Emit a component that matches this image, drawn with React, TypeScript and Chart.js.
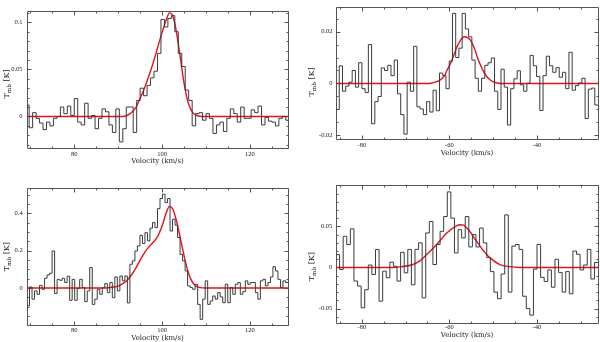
import React, { useEffect, useRef } from "react";
import { Chart, registerables } from "chart.js";

Chart.register(...registerables);

// ---------- Data ----------
// Panel 1 (top-left): channel grid + T_mb per channel
const P1_V0 = 68.95;
const P1_DV = 0.79;
const P1_TMB = [
  0.012, -0.012, 0.004, -0.002, -0.007, -0.014, -0.006, -0.01, -0.002, 0.0,
  0.01, 0.003, 0.011, 0.001, 0.019, -0.006, -0.009, 0.014, -0.002, 0.001,
  -0.013, -0.002, 0.008, 0.005, -0.009, -0.017, 0.008, -0.027, -0.013, 0.01,
  0.01, -0.017, 0.017, 0.03, 0.022, 0.033, 0.041, 0.048, 0.067, 0.103,
  0.095, 0.104, 0.107, 0.09, 0.067, 0.053, 0.028, 0.017, -0.01, 0.003,
  0.004, -0.004, 0.003, -0.002, -0.018, -0.009, -0.006, -0.016, -0.002, 0.008,
  0.003, -0.006, 0.01, -0.002, -0.002, 0.007, 0.004, 0.011, -0.009, -0.001,
  -0.005, -0.006, -0.01, -0.002, 0.0, -0.004,
];
const P1_FIT_V = [69.25, 91, 92, 93, 94, 95, 96, 97, 98, 99, 100, 101, 101.7, 102.3, 103, 104, 105, 106, 107, 108, 109, 128.7];
const P1_FIT_T = [0, 0, 0.001, 0.004, 0.009, 0.019, 0.03, 0.043, 0.057, 0.073, 0.089, 0.103, 0.11, 0.108, 0.097, 0.068, 0.036, 0.014, 0.004, 0.001, 0, 0];

// Panel 2 (top-right)
const P2_V0 = -85.9;
const P2_DV = 0.739;
const P2_TMB = [
  -0.01, 0.0068, -0.003, -0.001, 0.0005, 0.005, -0.0014, 0.008, -0.002, -0.0035,
  0.015, -0.0155, -0.007, -0.005, 0.006, 0.005, 0.007, 0.003, 0.009, -0.004,
  -0.012, -0.0195, 0.0005, -0.003, 0.0143, -0.009, -0.0098, -0.012, -0.007, -0.011,
  -0.0026, -0.0105, 0.004, 0.003, -0.002, 0.0086, 0.027, 0.01, 0.0136, 0.027,
  0.021, 0.018, 0.009, 0.002, -0.003, 0.002, 0.007, 0.008, 0.0098, -0.003,
  -0.01, 0.0055, -0.0014, -0.016, -0.002, 0.0018, 0.0049, -0.0005, -0.003, 0.0001,
  0.0108, 0.0068, 0.0027, -0.0104, 0.003, 0.0105, 0.0068, 0.0043, 0.0061, 0.0024,
  0.0043, -0.002, 0.012, -0.0026, -0.0008, 0.0002, 0.002, -0.0135, -0.0022, -0.0018,
  -0.0083,
];
const P2_FIT_V = [-85.9, -65, -64, -63, -62, -61, -60.6, -60, -59.4, -58.3, -57.5, -56.6, -55.2, -54, -53.7, -53, -52, -51, -50, -49, -48, -26.05];
const P2_FIT_T = [0, 0, 0.0002, 0.0006, 0.0015, 0.0033, 0.0049, 0.0068, 0.009, 0.014, 0.0165, 0.018, 0.0167, 0.0122, 0.0105, 0.0075, 0.004, 0.0018, 0.0006, 0.0002, 0, 0];

// Panel 3 (bottom-left)
const P3_V0 = 69.25;
const P3_DV = 0.5716;
const P3_TMB = [
  -0.096, 0.005, -0.06, -0.016, -0.034, 0.014, -0.007, 0.052, 0.07, 0.079,
  0.198, -0.03, 0.046, 0.041, 0.052, 0.029, 0.063, -0.066, 0.046, -0.066,
  -0.002, 0.046, 0.002, -0.073, -0.016, 0.109, -0.088, -0.06, -0.007, -0.034,
  0.002, 0.023, -0.025, 0.029, -0.052, 0.059, -0.016, 0.064, 0.038, 0.064,
  -0.08, 0.127, 0.145, 0.198, 0.225, 0.282, 0.238, 0.296, 0.252, 0.32,
  0.35, 0.323, 0.425, 0.479, 0.502, 0.457, 0.479, 0.305, 0.368, 0.336,
  0.27, 0.18, 0.145, 0.091, 0.011, 0.002, -0.007, 0.02, -0.088, -0.168,
  -0.06, 0.038, -0.088, -0.07, -0.043, -0.06, -0.025, -0.048, -0.079, 0.02,
  -0.079, 0.002, -0.034, 0.02, 0.029, -0.034, -0.02, 0.038, 0.02, 0.029,
  0.029, -0.025, -0.06, 0.038, 0.046, 0.011, 0.029, 0.059, 0.114, 0.091,
  0.046, 0.002, 0.038, 0.029,
];
const P3_FIT_V = [69.25, 87, 88, 89, 90, 91, 92, 93, 94, 95, 96, 97, 98, 99, 100, 101, 101.7, 102.5, 103.5, 104.5, 105.5, 106.5, 107.5, 108.5, 110, 128.7];
const P3_FIT_T = [0, 0, 0.002, 0.005, 0.01, 0.022, 0.04, 0.068, 0.105, 0.148, 0.188, 0.22, 0.245, 0.275, 0.33, 0.405, 0.437, 0.42, 0.34, 0.23, 0.125, 0.05, 0.015, 0.003, 0, 0];

// Panel 4 (bottom-right)
const P4_V0 = -85.9;
const P4_DV = 0.82;
const P4_TMB = [
  0.0157, -0.0024, 0.038, 0.028, 0.047, -0.0165, -0.0226, -0.049, -0.027, 0.003,
  -0.0085, 0.022, -0.041, -0.0044, -0.0125, 0.0065, 0.0015, -0.0165, 0.0185, -0.0065,
  0.022, -0.021, 0.022, 0.03, -0.037, 0.042, 0.056, 0.0036, 0.028, 0.044,
  0.062, 0.092, 0.06, 0.0177, 0.046, 0.036, 0.062, 0.025, 0.04, 0.025,
  0.048, 0.03, 0.012, -0.005, -0.03, -0.038, -0.008, 0.064, -0.03, 0.026,
  0.028, 0.022, -0.035, -0.05, -0.058, -0.002, 0.028, -0.012, -0.017, -0.003,
  -0.024, 0.01, -0.006, -0.03, -0.005, -0.032, 0.02, 0.016, -0.003, 0.003,
  0.022, -0.014, 0.006,
];
const P4_FIT_V = [-85.9, -73, -71.3, -68.3, -66.5, -65.2, -62.9, -60.6, -58.4, -57.5, -56.8, -55.5, -53.8, -52, -50.7, -48.5, -46.2, -44, -26.05];
const P4_FIT_T = [0, 0, 0.0008, 0.0036, 0.009, 0.0157, 0.028, 0.042, 0.0508, 0.052, 0.0515, 0.045, 0.032, 0.019, 0.0117, 0.0036, 0.001, 0, 0];

// Axis tick labels
const X_TICKS_POS = [80, 100, 120];
const X_TICKS_NEG = [-80, -60, -40];
const P1_Y_TICKS = [0, 0.05, 0.1];
const P2_Y_TICKS = [-0.02, 0, 0.02];
const P3_Y_TICKS = [0, 0.2, 0.4];
const P4_Y_TICKS = [-0.05, 0, 0.05];

const X_TITLE = "Velocity (km/s)";

const TITLE_FONT = "'DejaVu Serif', serif";
const TICK_FONT = "'Liberation Serif', serif";
const TEXT = "#1a1a1a";

// ---------- Plugins ----------
const frameTicks = {
  id: "frameTicks",
  beforeDatasetsDraw(chart: any, _a: any, opts: any) {
    const { ctx, chartArea: a, scales } = chart;
    const xs = scales.x;
    const ys = scales.y;
    ctx.save();
    ctx.strokeStyle = "#555";
    ctx.lineWidth = 1;
    const L = Math.round(a.left) + 0.5;
    const R = Math.round(a.right) + 0.5;
    const T = Math.round(a.top) + 0.5;
    const B = Math.round(a.bottom) + 0.5;
    ctx.beginPath();
    ctx.rect(L, T, R - L, B - T);
    const xTicks = (step: number, len: number) => {
      for (let k = Math.ceil(xs.min / step - 1e-6); k * step <= xs.max + 1e-9; k++) {
        const px = Math.round(xs.getPixelForValue(k * step)) + 0.5;
        ctx.moveTo(px, T);
        ctx.lineTo(px, T + len);
        ctx.moveTo(px, B);
        ctx.lineTo(px, B - len);
      }
    };
    const yTicks = (step: number, len: number) => {
      for (let k = Math.ceil(ys.min / step - 1e-6); k * step <= ys.max + 1e-9; k++) {
        const py = Math.round(ys.getPixelForValue(k * step)) + 0.5;
        ctx.moveTo(L, py);
        ctx.lineTo(L + len, py);
        ctx.moveTo(R, py);
        ctx.lineTo(R - len, py);
      }
    };
    xTicks(opts.xMajor, 4);
    xTicks(opts.xMinor, 2);
    yTicks(opts.yMajor, 4);
    yTicks(opts.yMinor, 2);
    ctx.stroke();
    ctx.restore();
  },
};

const yTitle = {
  id: "yTitle",
  afterDraw(chart: any, _a: any, opts: any) {
    const { ctx } = chart;
    const size = opts.size;
    const big = `${size}px ${TITLE_FONT}`;
    const small = `${size * 0.72}px ${TITLE_FONT}`;
    ctx.save();
    ctx.translate(opts.x, opts.y);
    ctx.rotate(-Math.PI / 2);
    ctx.fillStyle = TEXT;
    ctx.textBaseline = "middle";
    ctx.textAlign = "left";
    ctx.font = big;
    const wT = ctx.measureText("T").width;
    const wK = ctx.measureText(" [K]").width;
    ctx.font = small;
    const wmb = ctx.measureText("mb").width;
    const start = -(wT + wmb + wK) / 2;
    ctx.font = big;
    ctx.fillText("T", start, 0);
    ctx.font = small;
    ctx.fillText("mb", start + wT, size * 0.3);
    ctx.font = big;
    ctx.fillText(" [K]", start + wT + wmb, 0);
    ctx.restore();
  },
};

// ---------- Panel ----------
type PanelProps = {
  left: number;
  top: number;
  v0: number;
  dv: number;
  tmb: number[];
  fitV: number[];
  fitT: number[];
  xMin: number;
  xMax: number;
  yMin: number;
  yMax: number;
  xTicks: number[];
  yTicks: number[];
  yMajor: number;
  yMinor: number;
  yAxisW: number;
  padRight: number;
  padTop: number;
  xAxisH: number;
  xTickPad: number;
  xTitlePad: number;
  yTickPad: number;
  yTitleX: number;
  yTitleY: number;
};

function Panel(p: PanelProps) {
  const ref = useRef<HTMLCanvasElement | null>(null);
  useEffect(() => {
    if (!ref.current) return;
    const hist = p.tmb.map((t, i) => ({ x: p.v0 + i * p.dv, y: t }));
    hist.push({ x: p.v0 + p.tmb.length * p.dv, y: p.tmb[p.tmb.length - 1] });
    const fit = p.fitV.map((v, i) => ({ x: v, y: p.fitT[i] }));
    const chart = new Chart(ref.current, {
      type: "line",
      data: {
        datasets: [
          {
            data: hist,
            stepped: true,
            borderColor: "#3a3a3a",
            borderWidth: 1,
            pointRadius: 0,
            fill: false,
          },
          {
            data: fit,
            borderColor: "#e8101c",
            borderWidth: 1.4,
            pointRadius: 0,
            cubicInterpolationMode: "monotone",
            fill: false,
          },
        ],
      },
      options: {
        responsive: false,
        animation: false,
        events: [],
        layout: { padding: { left: 0, right: p.padRight, top: p.padTop, bottom: 0 } },
        plugins: {
          legend: { display: false },
          tooltip: { enabled: false },
          frameTicks: { xMajor: 20, xMinor: 5, yMajor: p.yMajor, yMinor: p.yMinor },
          yTitle: { x: p.yTitleX, y: p.yTitleY, size: 8 },
        } as any,
        scales: {
          x: {
            type: "linear",
            min: p.xMin,
            max: p.xMax,
            grid: { display: false, drawTicks: false },
            border: { display: false },
            ticks: {
              autoSkip: false,
              maxRotation: 0,
              padding: p.xTickPad,
              color: TEXT,
              font: { family: TICK_FONT, size: 6.5 },
              callback: (v: any) => String(v),
            },
            afterBuildTicks: (s: any) => {
              s.ticks = p.xTicks.map((v) => ({ value: v }));
            },
            afterFit: (s: any) => {
              s.height = p.xAxisH;
            },
            title: {
              display: true,
              text: X_TITLE,
              color: TEXT,
              font: { family: TITLE_FONT, size: 7 },
              padding: { top: 0, bottom: p.xTitlePad },
            },
          },
          y: {
            type: "linear",
            min: p.yMin,
            max: p.yMax,
            grid: { display: false, drawTicks: false },
            border: { display: false },
            ticks: {
              autoSkip: false,
              padding: p.yTickPad,
              color: TEXT,
              font: { family: TICK_FONT, size: 6.5 },
              callback: (v: any) => String(v),
            },
            afterBuildTicks: (s: any) => {
              s.ticks = p.yTicks.map((v) => ({ value: v }));
            },
            afterFit: (s: any) => {
              s.width = p.yAxisW;
            },
          },
        },
      },
      plugins: [frameTicks, yTitle],
    } as any);
    return () => chart.destroy();
  }, []);
  return (
    <canvas
      ref={ref}
      width={300}
      height={171}
      style={{ position: "absolute", left: p.left, top: p.top, width: 300, height: 171 }}
    />
  );
}

export default function App() {
  return (
    <div style={{ position: "absolute", left: 0, top: 0, width: 600, height: 342, background: "#fff" }}>
      <Panel
        left={0} top={0}
        v0={P1_V0} dv={P1_DV} tmb={P1_TMB} fitV={P1_FIT_V} fitT={P1_FIT_T}
        xMin={69.25} xMax={128.7} yMin={-0.0335} yMax={0.1125}
        xTicks={X_TICKS_POS} yTicks={P1_Y_TICKS} yMajor={0.05} yMinor={0.01}
        yAxisW={27} padRight={12} padTop={10.5} xAxisH={23}
        xTickPad={2.8} xTitlePad={6.1} yTickPad={4.5} yTitleX={6.7} yTitleY={84}
      />
      <Panel
        left={300} top={0}
        v0={P2_V0} dv={P2_DV} tmb={P2_TMB} fitV={P2_FIT_V} fitT={P2_FIT_T}
        xMin={-85.9} xMax={-26.05} yMin={-0.0215} yMax={0.0293}
        xTicks={X_TICKS_NEG} yTicks={P2_Y_TICKS} yMajor={0.02} yMinor={0.005}
        yAxisW={36} padRight={2} padTop={3} xAxisH={31.7}
        xTickPad={2.2} xTitlePad={13.5} yTickPad={3.5} yTitleX={11.7} yTitleY={82}
      />
      <Panel
        left={0} top={171}
        v0={P3_V0} dv={P3_DV} tmb={P3_TMB} fitV={P3_FIT_V} fitT={P3_FIT_T}
        xMin={69.25} xMax={128.7} yMin={-0.2} yMax={0.537}
        xTicks={X_TICKS_POS} yTicks={P3_Y_TICKS} yMajor={0.2} yMinor={0.05}
        yAxisW={27} padRight={12} padTop={16.7} xAxisH={16.7}
        xTickPad={1.5} xTitlePad={0.1} yTickPad={4.3} yTitleX={6.7} yTitleY={85.7}
      />
      <Panel
        left={300} top={171}
        v0={P4_V0} dv={P4_DV} tmb={P4_TMB} fitV={P4_FIT_V} fitT={P4_FIT_T}
        xMin={-85.9} xMax={-26.05} yMin={-0.0672} yMax={0.1004}
        xTicks={X_TICKS_NEG} yTicks={P4_Y_TICKS} yMajor={0.05} yMinor={0.01}
        yAxisW={36} padRight={2} padTop={14} xAxisH={19.3}
        xTickPad={0.8} xTitlePad={2.8} yTickPad={3.7} yTitleX={12.3} yTitleY={95.7}
      />
    </div>
  );
}
